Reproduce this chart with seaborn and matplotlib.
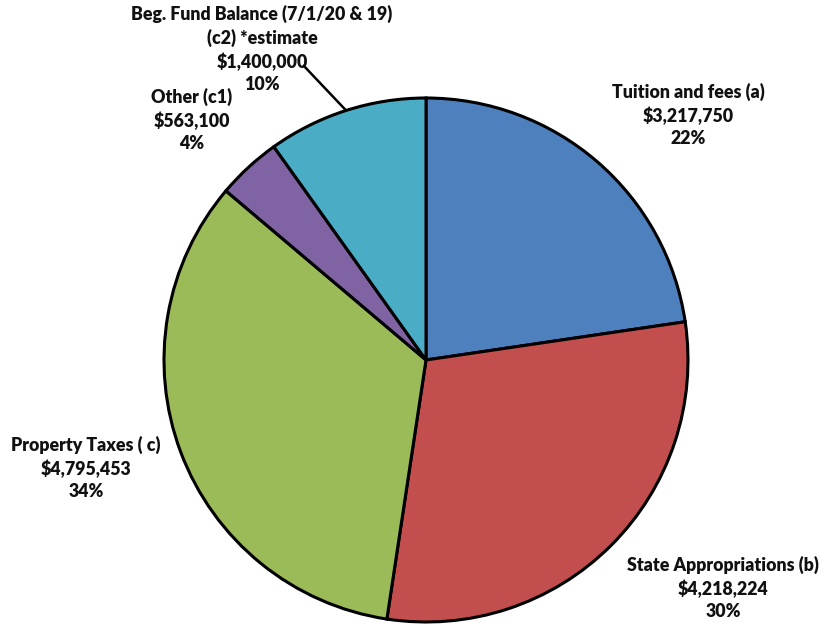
import numpy as np
import matplotlib
matplotlib.use("Agg")
import matplotlib.pyplot as plt
import seaborn as sns

sns.set_theme(style="white")
plt.rcParams["font.family"] = ["Lato", "DejaVu Sans"]

# Revenue sources, clockwise from 12 o'clock
categories = [
    "Tuition and fees (a)",
    "State Appropriations (b)",
    "Property Taxes ( c)",
    "Other (c1)",
    "Beg. Fund Balance (7/1/20 & 19)\n(c2) *estimate",
]
amounts = [3217750, 4218224, 4795453, 563100, 1400000]
pct_labels = ["22%", "30%", "34%", "4%", "10%"]
colors = ["#4F80BE", "#C24F4D", "#9BBB59", "#7F63A3", "#4BACC6"]

# Label anchor positions (pixel space, y measured from top)
label_xy = [(688, 115), (723, 588), (86, 468), (192, 120), (262, 49)]

W, H = 821, 628
fig = plt.figure(figsize=(W / 100, H / 100), dpi=100)
ax = fig.add_axes([0, 0, 1, 1])

cx, cy, r = 426, H - 360, 262
wedges, _ = ax.pie(
    amounts, colors=colors, startangle=90, counterclock=False,
    center=(cx, cy), radius=r, frame=True,
    wedgeprops=dict(edgecolor="black", linewidth=2.2),
)
ax.set_xlim(0, W)
ax.set_ylim(0, H)
ax.set_aspect("equal")
ax.axis("off")

for (name, amt, pct, (lx, ly)) in zip(categories, amounts, pct_labels, label_xy):
    ax.text(lx, H - ly, f"{name}\n${amt:,.0f}\n{pct}", ha="center", va="center",
            fontsize=12.8, fontweight="heavy", color="#111111", linespacing=1.38)

# Leader line for the fund-balance slice
w = wedges[4]
mid = np.deg2rad((w.theta1 + w.theta2) / 2)
ex, ey = cx + r * np.cos(mid), cy + r * np.sin(mid)
ax.plot([303, ex], [H - 65, ey], color="black", lw=1.8, solid_capstyle="butt")

fig.savefig("out.png", dpi=100)
